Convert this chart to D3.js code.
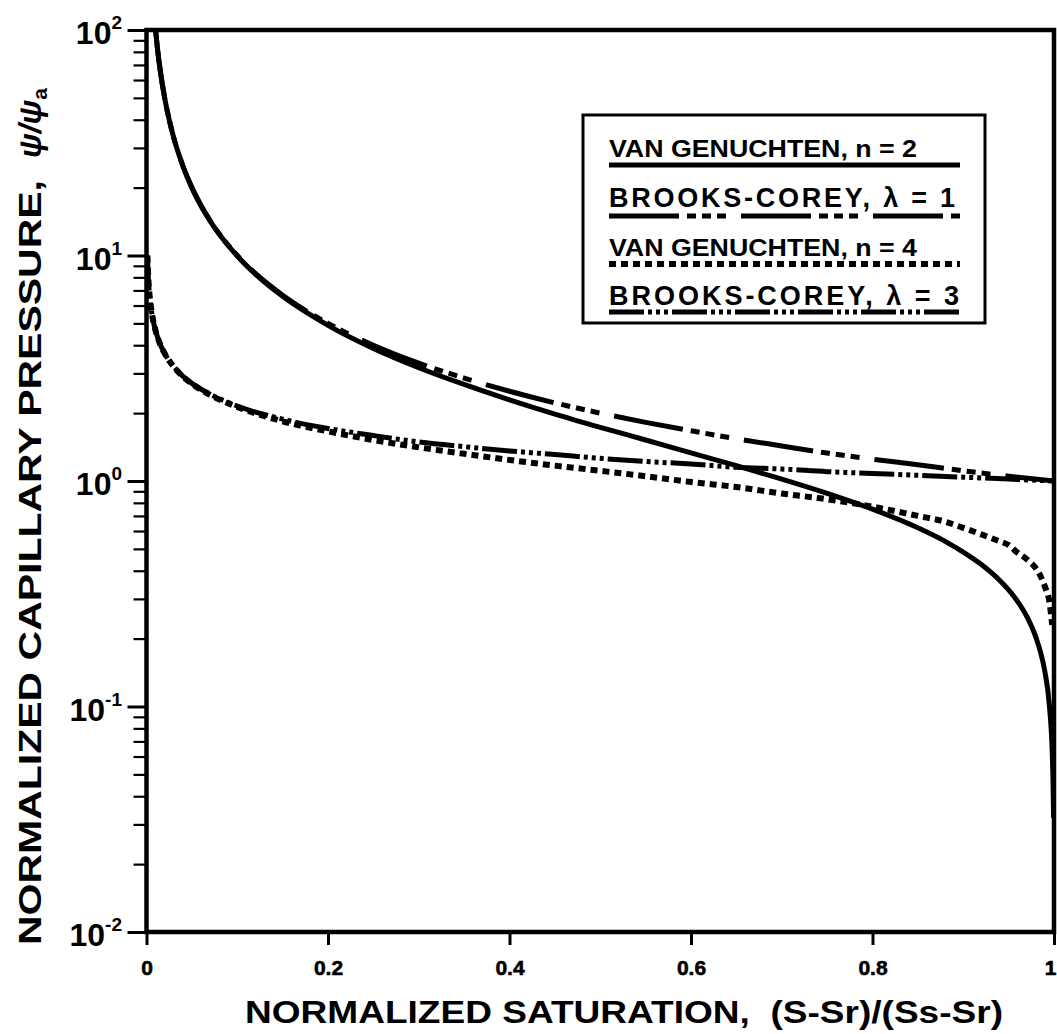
<!DOCTYPE html>
<html>
<head>
<meta charset="utf-8">
<script src="https://cdn.jsdelivr.net/npm/d3@7"></script>
<style>
  body { margin: 0; background: #fff; }
  svg { display: block; font-family: "Liberation Sans", Arial, Helvetica, sans-serif; }
  text { white-space: pre; }
</style>
</head>
<body>
<script>
var width = 1057, height = 1034;

// VAN GENUCHTEN n = 2 (solid)
var satVG2 = [0.01, 0.012, 0.015, 0.02, 0.025, 0.03, 0.04, 0.05, 0.06, 0.07, 0.08, 0.1, 0.12, 0.15, 0.2, 0.25, 0.3, 0.35, 0.4, 0.45, 0.5, 0.55, 0.6, 0.65, 0.7, 0.75, 0.8, 0.85, 0.88, 0.9, 0.92, 0.94, 0.95, 0.96, 0.97, 0.98, 0.985, 0.99, 0.995, 0.998, 0.999, 0.9995];
var psiVG2 = [100, 83.3, 66.7, 50.0, 40.0, 33.3, 25.0, 20.0, 16.6, 14.25, 12.46, 9.95, 8.27, 6.59, 4.90, 3.87, 3.18, 2.68, 2.29, 1.98, 1.73, 1.52, 1.333, 1.169, 1.020, 0.882, 0.750, 0.620, 0.540, 0.484, 0.426, 0.363, 0.329, 0.292, 0.251, 0.203, 0.175, 0.1425, 0.100, 0.063, 0.045, 0.032];

// BROOKS-COREY lambda = 1 (long dash + 3 short)
var satBC1 = [0.01, 0.012, 0.015, 0.02, 0.025, 0.03, 0.04, 0.05, 0.06, 0.07, 0.08, 0.1, 0.12, 0.15, 0.2, 0.25, 0.3, 0.35, 0.4, 0.45, 0.5, 0.55, 0.6, 0.65, 0.7, 0.75, 0.8, 0.85, 0.9, 0.95, 1.0];
var psiBC1 = [100, 83.3, 66.7, 50, 40, 33.3, 25, 20, 16.7, 14.3, 12.5, 10, 8.33, 6.67, 5, 4, 3.33, 2.86, 2.5, 2.22, 2, 1.82, 1.67, 1.54, 1.43, 1.33, 1.25, 1.18, 1.11, 1.05, 1.0];

// VAN GENUCHTEN n = 4 (dotted)
var satVG4 = [0.001, 0.002, 0.003, 0.005, 0.007, 0.01, 0.015, 0.02, 0.03, 0.04, 0.05, 0.07, 0.1, 0.15, 0.2, 0.25, 0.3, 0.35, 0.4, 0.45, 0.5, 0.55, 0.6, 0.65, 0.7, 0.75, 0.8, 0.85, 0.88, 0.9, 0.92, 0.94, 0.95, 0.96, 0.97, 0.98, 0.985, 0.99, 0.995, 0.998];
var psiVG4 = [10.0, 7.94, 6.93, 5.85, 5.23, 4.64, 4.05, 3.68, 3.21, 2.91, 2.70, 2.41, 2.13, 1.84, 1.66, 1.52, 1.41, 1.32, 1.24, 1.17, 1.11, 1.05, 0.99, 0.94, 0.88, 0.83, 0.77, 0.70, 0.66, 0.62, 0.58, 0.54, 0.52, 0.48, 0.45, 0.41, 0.38, 0.34, 0.29, 0.23];

// BROOKS-COREY lambda = 3 (long dash + 3 dots)
var satBC3 = [0.001, 0.002, 0.003, 0.005, 0.007, 0.01, 0.015, 0.02, 0.03, 0.04, 0.05, 0.07, 0.1, 0.15, 0.2, 0.25, 0.3, 0.35, 0.4, 0.45, 0.5, 0.55, 0.6, 0.65, 0.7, 0.75, 0.8, 0.85, 0.9, 0.95, 1.0];
var psiBC3 = [10, 7.94, 6.93, 5.85, 5.23, 4.64, 4.05, 3.68, 3.22, 2.92, 2.71, 2.43, 2.15, 1.88, 1.71, 1.59, 1.49, 1.42, 1.36, 1.31, 1.26, 1.22, 1.19, 1.15, 1.13, 1.10, 1.08, 1.06, 1.04, 1.02, 1.0];

var xTicks = [0, 0.2, 0.4, 0.6, 0.8, 1];
var yMajor = [0.01, 0.1, 1, 10, 100];
var yExp = ["-2", "-1", "0", "1", "2"];
var legendLabels = ["VAN GENUCHTEN, n = 2", "BROOKS-COREY, \u03bb = 1", "VAN GENUCHTEN, n = 4", "BROOKS-COREY, \u03bb = 3"];

var series = [
  {sat: satVG2, psi: psiVG2, dash: null, w: 5},
  {sat: satBC1, psi: psiBC1, dash: "70,8,9,6,9,6,9,15", w: 5},
  {sat: satVG4, psi: psiVG4, dash: "7,5", w: 6},
  {sat: satBC3, psi: psiBC3, dash: "35,4,4,4,4,4,4,4", w: 5}
];

var svg = d3.select("body").append("svg")
  .attr("width", width)
  .attr("height", height);

var x = d3.scaleLinear().domain([0, 1]).range([146.5, 1054]);
var y = d3.scaleLog().domain([0.01, 100]).range([932, 30]);

svg.append("clipPath").attr("id", "plotclip")
  .append("rect")
  .attr("x", 146.5).attr("y", 30)
  .attr("width", 1054 - 146.5).attr("height", 902);

// minor y ticks
var yMinor = [];
[0.01, 0.1, 1, 10].forEach(function (d) {
  for (var k = 2; k <= 9; k++) yMinor.push(d * k);
});

var minorAxis = svg.append("g")
  .attr("transform", "translate(146.5,0)")
  .call(d3.axisLeft(y).tickValues(yMinor).tickSize(13).tickFormat(""));
minorAxis.select(".domain").remove();
minorAxis.selectAll("line").attr("stroke", "#000").attr("stroke-width", 2.2);

var majorAxis = svg.append("g")
  .attr("transform", "translate(146.5,0)")
  .call(d3.axisLeft(y).tickValues(yMajor).tickSize(19).tickFormat(""));
majorAxis.select(".domain").remove();
majorAxis.selectAll("line").attr("stroke", "#000").attr("stroke-width", 3);

// y tick labels with superscripts
yMajor.forEach(function (d, i) {
  var t = svg.append("text")
    .attr("x", 122)
    .attr("y", y(d) + 14)
    .attr("text-anchor", "end")
    .attr("font-weight", "bold")
    .attr("font-size", 32)
    .text("10");
  t.append("tspan")
    .attr("dy", -15)
    .attr("font-size", 19)
    .text(yExp[i]);
});

var xAxis = svg.append("g")
  .attr("transform", "translate(0,932)")
  .call(d3.axisBottom(x).tickValues(xTicks).tickSize(13).tickPadding(15).tickFormat(d3.format("~g")));
xAxis.select(".domain").remove();
xAxis.selectAll("line").attr("stroke", "#000").attr("stroke-width", 3);
xAxis.selectAll("text")
  .attr("fill", "#000")
  .attr("stroke", "#000")
  .attr("stroke-width", 0.6)
  .style("font-family", "'Liberation Sans', Arial, sans-serif")
  .style("font-weight", "bold")
  .style("font-size", "21px")
  .attr("dx", function (d) { return d === 1 ? -4 : 0; });

// curves
var line = d3.line()
  .x(function (d) { return x(d[0]); })
  .y(function (d) { return y(d[1]); })
  .curve(d3.curveMonotoneX);

var curves = svg.append("g").attr("clip-path", "url(#plotclip)");
series.forEach(function (s) {
  var pts = s.sat.map(function (v, i) { return [v, s.psi[i]]; });
  curves.append("path")
    .datum(pts)
    .attr("d", line)
    .attr("fill", "none")
    .attr("stroke", "#000")
    .attr("stroke-width", s.w)
    .attr("stroke-dasharray", s.dash);
});

// frame
svg.append("rect")
  .attr("x", 146.5).attr("y", 30)
  .attr("width", 1054 - 146.5).attr("height", 902)
  .attr("fill", "none")
  .attr("stroke", "#000")
  .attr("stroke-width", 4.5);

// legend
svg.append("rect")
  .attr("x", 583).attr("y", 115)
  .attr("width", 402).attr("height", 208)
  .attr("fill", "#fff")
  .attr("stroke", "#000")
  .attr("stroke-width", 3);

var legendBase = [157, 207, 256, 305];
var legendLine = [165, 216, 264, 312];
var legendLen = [308, 346, 308, 350];

legendLabels.forEach(function (lab, i) {
  var vg = i % 2 === 0;
  svg.append("text")
    .attr("x", 609)
    .attr("y", legendBase[i])
    .attr("font-weight", "bold")
    .attr("font-size", vg ? 24 : 27)
    .attr("textLength", legendLen[i])
    .attr("lengthAdjust", vg ? "spacingAndGlyphs" : "spacing")
    .text(lab);
  svg.append("line")
    .attr("x1", 609).attr("x2", 960)
    .attr("y1", legendLine[i]).attr("y2", legendLine[i])
    .attr("stroke", "#000")
    .attr("stroke-width", series[i].w)
    .attr("stroke-dasharray", series[i].dash);
});

// axis titles
svg.append("text")
  .attr("x", 245)
  .attr("y", 1023)
  .attr("font-weight", "bold")
  .attr("font-size", 32)
  .attr("textLength", 758)
  .attr("lengthAdjust", "spacingAndGlyphs")
  .text("NORMALIZED SATURATION,  (S-Sr)/(Ss-Sr)");

svg.append("text")
  .attr("transform", "translate(41,945) rotate(-90)")
  .attr("font-weight", "bold")
  .attr("font-size", 32)
  .attr("textLength", 765)
  .attr("lengthAdjust", "spacingAndGlyphs")
  .text("NORMALIZED CAPILLARY PRESSURE,");

var psiLab = svg.append("text")
  .attr("transform", "translate(41,158) rotate(-90)")
  .attr("font-weight", "bold")
  .attr("font-style", "italic")
  .attr("font-size", 32)
  .text("\u03c8/\u03c8");
psiLab.append("tspan")
  .attr("dy", 6)
  .attr("font-style", "normal")
  .attr("font-size", 21)
  .text("a");
</script>
</body>
</html>
